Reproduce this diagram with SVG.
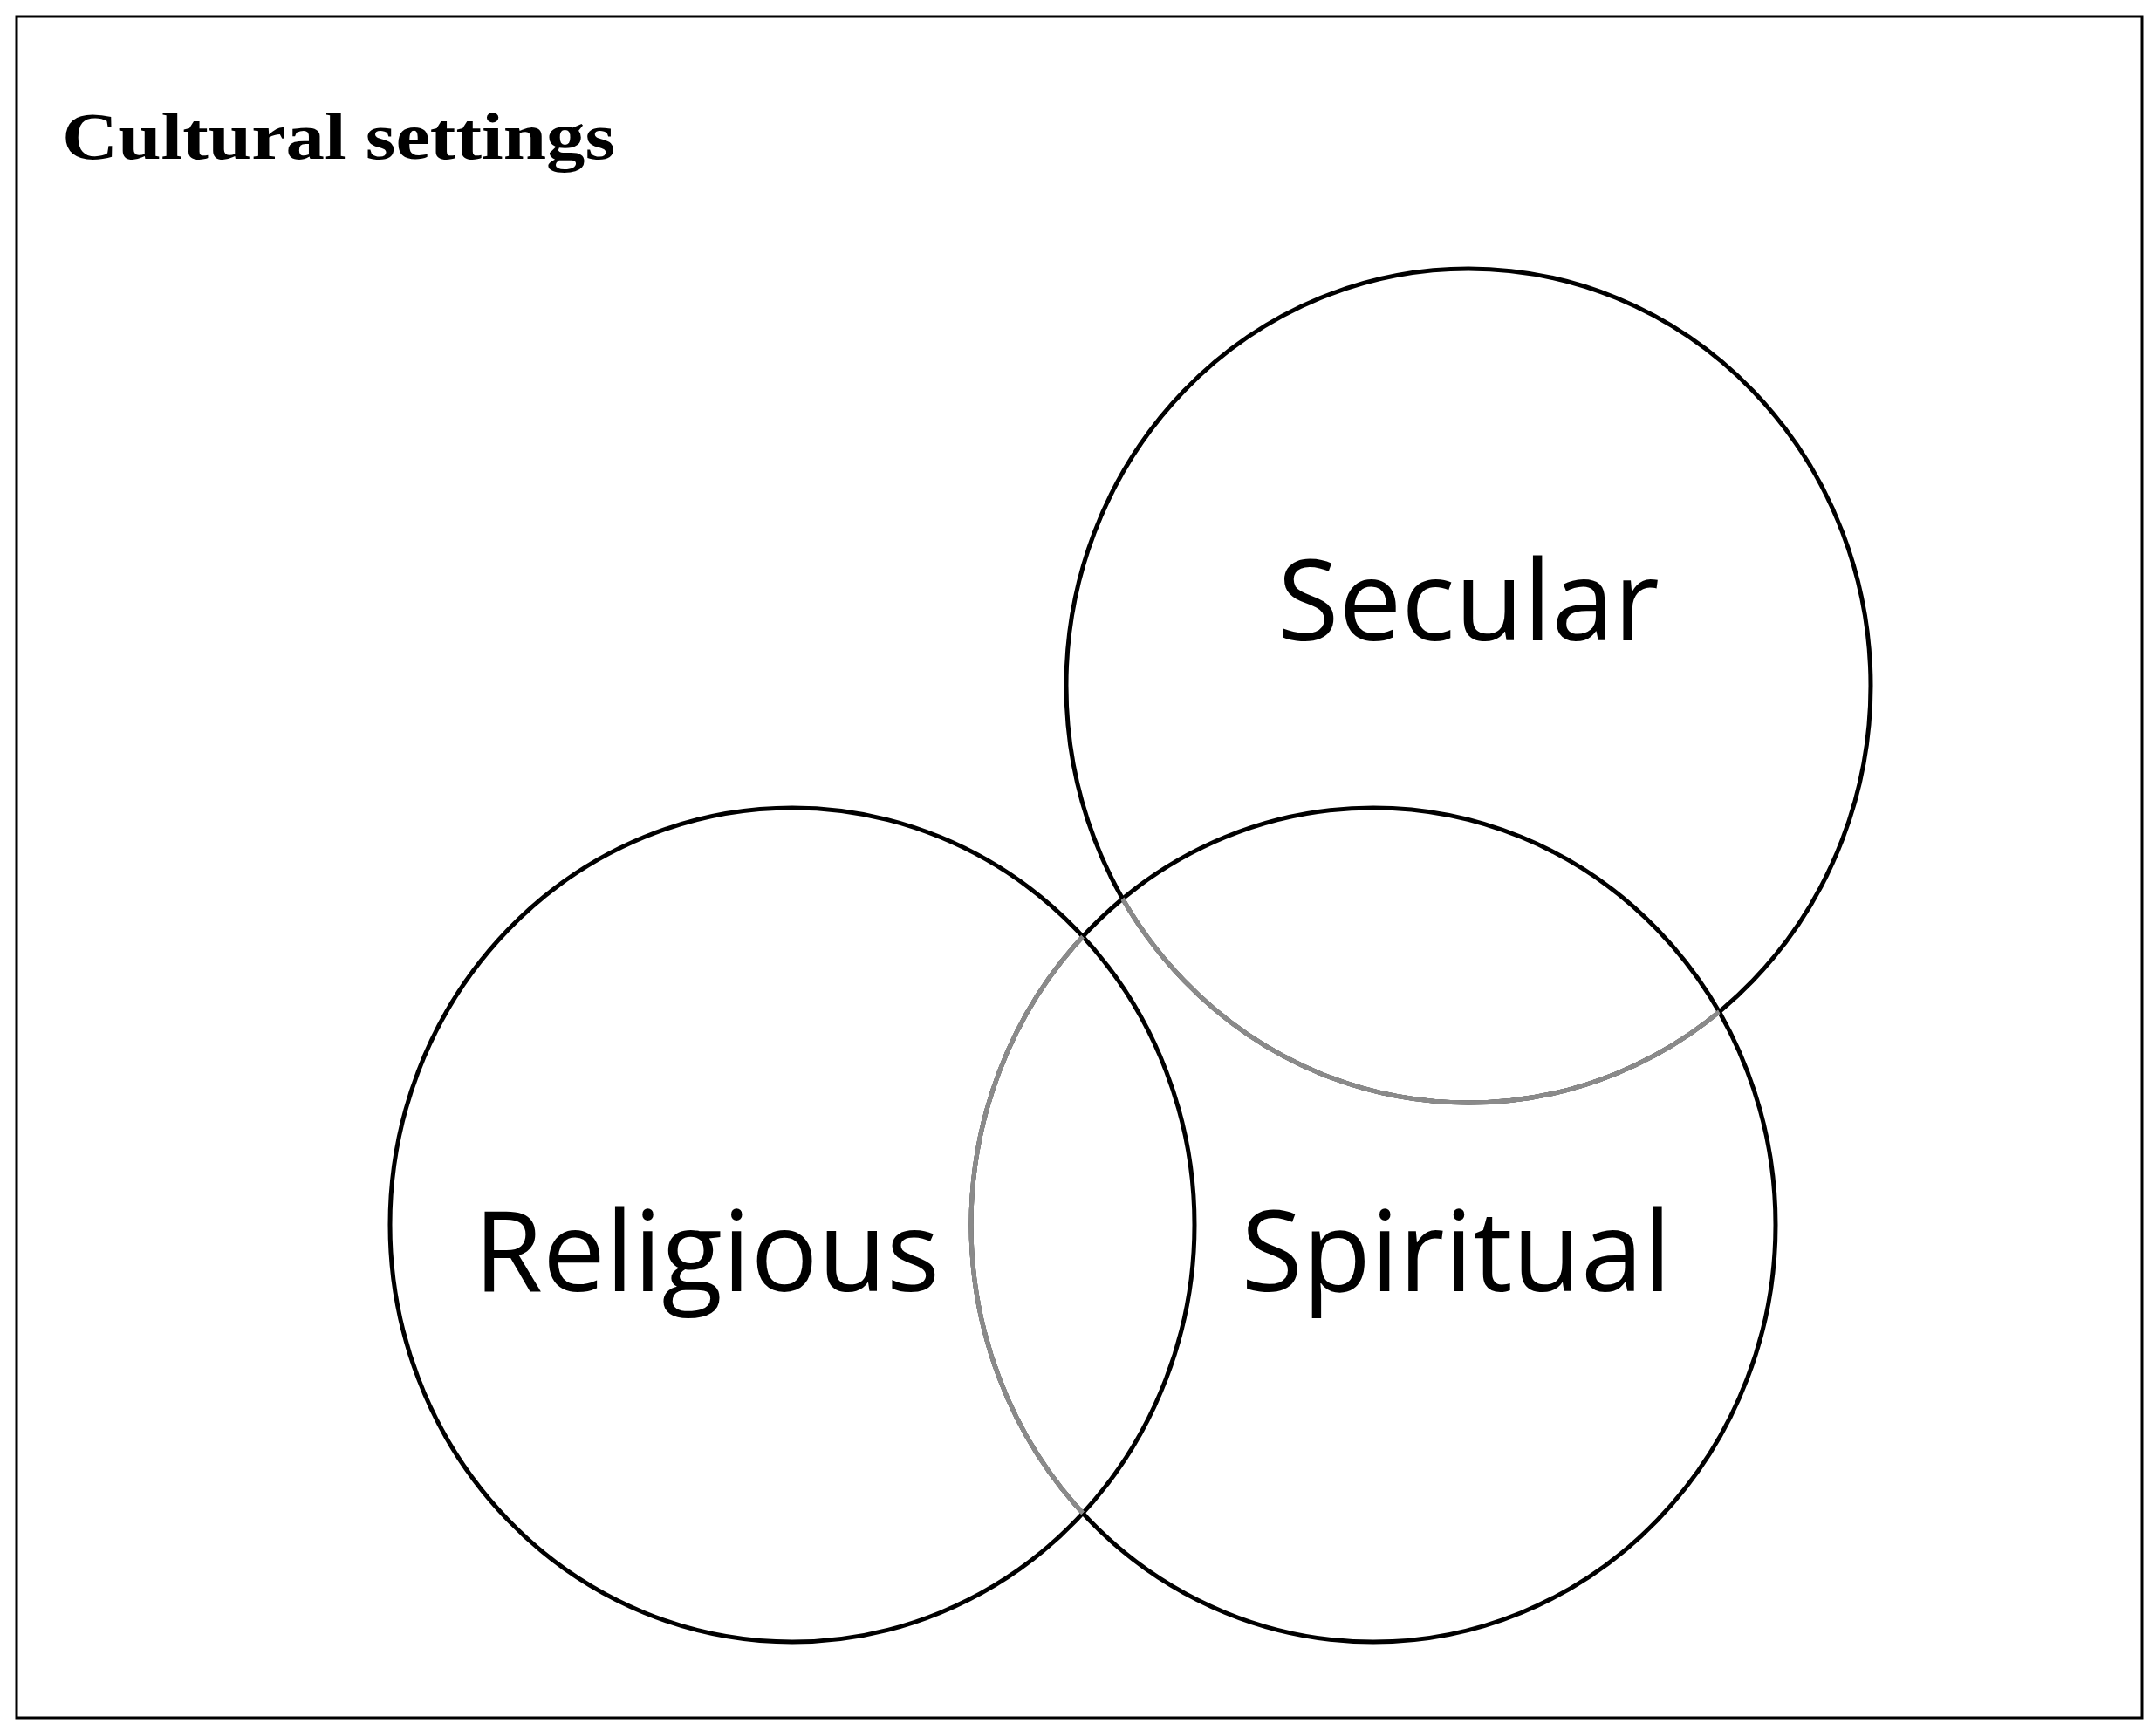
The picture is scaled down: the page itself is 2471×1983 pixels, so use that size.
<svg xmlns="http://www.w3.org/2000/svg" width="2471" height="1983" viewBox="0 0 2471 1983">
<style>
.c{fill:none;stroke:#000;stroke-width:5}
.g{fill:none;stroke:#8a8a8a;stroke-width:5}
.lbl{font-family:"Open Sans","Noto Sans",sans-serif;font-size:128px;text-anchor:middle;fill:#000}
</style>
<defs>
<clipPath id="inSpir"><ellipse cx="1574" cy="1404" rx="461" ry="478"/></clipPath>
<clipPath id="inRel"><ellipse cx="908" cy="1404" rx="461" ry="478"/></clipPath>
</defs>
<rect x="19" y="19" width="2436" height="1950" fill="#fff" stroke="#000" stroke-width="3"/>
<text x="71" y="182" font-family="Liberation Serif,serif" font-weight="bold" font-size="76" textLength="634" lengthAdjust="spacingAndGlyphs">Cultural settings</text>
<g id="secular">
<ellipse class="c" cx="1683" cy="786" rx="461" ry="478"/>
<text class="lbl" x="1683" y="734">Secular</text>
</g>
<g id="religious">
<ellipse class="c" cx="908" cy="1404" rx="461" ry="478"/>
<text class="lbl" x="810" y="1480">Religious</text>
</g>
<g id="spiritual">
<ellipse class="c" cx="1574" cy="1404" rx="461" ry="478"/>
<text class="lbl" x="1669" y="1480">Spiritual</text>
</g>
<g id="connectors">
<ellipse class="g" cx="1683" cy="786" rx="461" ry="478" clip-path="url(#inSpir)" stroke="#fff" stroke-width="9"/>
<ellipse class="g" cx="1683" cy="786" rx="461" ry="478" clip-path="url(#inSpir)"/>
<ellipse class="g" cx="1574" cy="1404" rx="461" ry="478" clip-path="url(#inRel)" stroke="#fff" stroke-width="9"/>
<ellipse class="g" cx="1574" cy="1404" rx="461" ry="478" clip-path="url(#inRel)"/>
</g>
</svg>
